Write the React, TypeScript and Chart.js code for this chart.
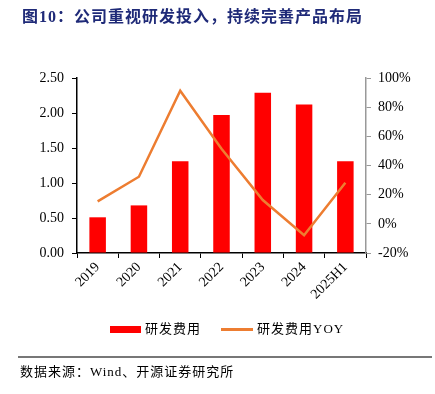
import React, { useEffect, useRef } from "react";
import { Chart, registerables } from "chart.js";

Chart.register(...registerables);

const categories = ["2019", "2020", "2021", "2022", "2023", "2024", "2025H1"];
const rdExpense = [0.51, 0.68, 1.31, 1.97, 2.29, 2.12, 1.31];
const rdYoy = [15.4, 32.3, 91.3, 51.5, 16.3, -7.8, 28.2];
const leftTicks = [0, 0.5, 1, 1.5, 2, 2.5];
const rightTicks = [-20, 0, 20, 40, 60, 80, 100];

const serif = "'Liberation Serif', 'Noto Sans CJK SC', serif";
const cjk = "'Liberation Serif', 'Noto Sans CJK SC', serif";

export default function App() {
  const ref = useRef<HTMLCanvasElement | null>(null);
  useEffect(() => {
    if (!ref.current) return;
    const chart = new Chart(ref.current, {
      type: "bar",
      data: {
        labels: categories,
        datasets: [
          {
            type: "line",
            label: "研发费用YOY",
            data: rdYoy,
            yAxisID: "y1",
            borderColor: "#ed7d31",
            backgroundColor: "#ed7d31",
            borderWidth: 2.5,
            pointRadius: 0,
            tension: 0,
            order: 0,
          },
          {
            type: "bar",
            label: "研发费用",
            data: rdExpense,
            yAxisID: "y",
            backgroundColor: "#ff0000",
            barPercentage: 0.4,
            categoryPercentage: 1,
            order: 1,
          },
        ],
      },
      options: {
        animation: false,
        responsive: false,
        maintainAspectRatio: false,
        layout: { padding: { top: 78, left: 0, right: 0, bottom: 0 } },
        plugins: { legend: { display: false }, tooltip: { enabled: false } },
        scales: {
          x: {
            offset: true,
            grid: {
              offset: true,
              drawOnChartArea: false,
              drawTicks: true,
              tickLength: 5,
              color: "#000",
            },
            border: { color: "#000", width: 1.5 },
            ticks: {
              color: "#000",
              font: { family: serif, size: 14 },
              maxRotation: 45,
              minRotation: 45,
              padding: 1,
              autoSkip: false,
            },
            afterFit: (s: any) => {
              s.height = 141;
            },
          },
          y: {
            position: "left",
            min: 0,
            max: 2.5,
            afterBuildTicks: (s: any) => {
              s.ticks = leftTicks.map((v) => ({ value: v }));
            },
            grid: {
              drawOnChartArea: false,
              tickLength: 5,
              color: "#000",
            },
            border: { color: "#000", width: 1.5 },
            ticks: {
              color: "#000",
              font: { family: serif, size: 14 },
              padding: 8,
              callback: (v: any) => Number(v).toFixed(2),
            },
            afterFit: (s: any) => {
              s.width = 77;
            },
          },
          y1: {
            position: "right",
            min: -20,
            max: 100,
            afterBuildTicks: (s: any) => {
              s.ticks = rightTicks.map((v) => ({ value: v }));
            },
            grid: {
              drawOnChartArea: false,
              tickLength: 5,
              color: "#999",
            },
            border: { color: "#999", width: 1.5 },
            ticks: {
              color: "#000",
              font: { family: serif, size: 14 },
              padding: 7,
              callback: (v: any) => v + "%",
            },
            afterFit: (s: any) => {
              s.width = 69;
            },
          },
        },
      },
    });
    return () => chart.destroy();
  }, []);

  return (
    <div
      style={{
        position: "fixed",
        left: 0,
        top: 0,
        width: 435,
        height: 394,
        background: "#fff",
        overflow: "hidden",
      }}
    >
      <canvas ref={ref} width={435} height={394} style={{ position: "absolute", left: 0, top: 0 }} />
      <div
        style={{
          position: "absolute",
          left: 22,
          top: 7,
          fontFamily: cjk,
          fontWeight: "bold",
          fontSize: 16,
          letterSpacing: 1,
          color: "#1f2a78",
          whiteSpace: "nowrap",
          lineHeight: "20px",
        }}
      >
        图10：公司重视研发投入，持续完善产品布局
      </div>
      <div style={{ position: "absolute", left: 110, top: 326, width: 31, height: 7, background: "#ff0000" }} />
      <div
        style={{
          position: "absolute",
          left: 145,
          top: 320,
          fontFamily: cjk,
          fontSize: 13,
          letterSpacing: 1,
          lineHeight: "18px",
          whiteSpace: "nowrap",
        }}
      >
        研发费用
      </div>
      <div style={{ position: "absolute", left: 221, top: 328, width: 32, height: 2.5, background: "#ed7d31" }} />
      <div
        style={{
          position: "absolute",
          left: 257,
          top: 320,
          fontFamily: cjk,
          fontSize: 13,
          letterSpacing: 1,
          lineHeight: "18px",
          whiteSpace: "nowrap",
        }}
      >
        研发费用YOY
      </div>
      <div style={{ position: "absolute", left: 18, top: 356, width: 414, height: 1.5, background: "#777" }} />
      <div
        style={{
          position: "absolute",
          left: 20,
          top: 363,
          fontFamily: cjk,
          fontSize: 13,
          letterSpacing: 1,
          lineHeight: "18px",
          whiteSpace: "nowrap",
        }}
      >
        数据来源：Wind、开源证券研究所
      </div>
    </div>
  );
}
